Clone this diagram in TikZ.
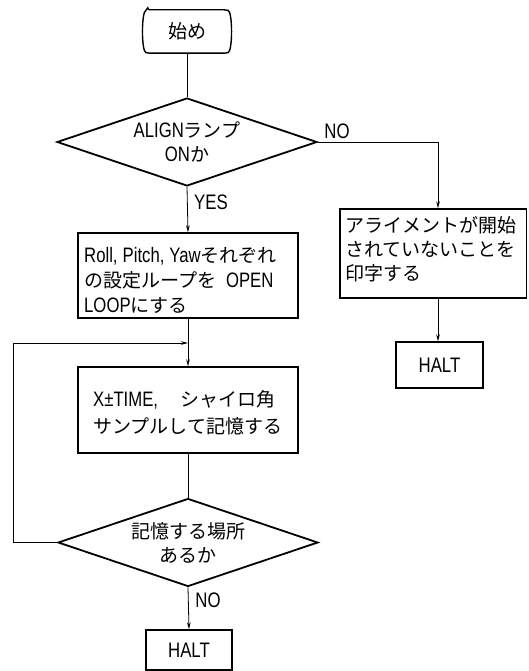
\documentclass[tikz,border=0pt]{standalone}
\usepackage{fontspec}
\setmainfont{Noto Sans CJK JP}
\newfontfamily\lat[FakeStretch=0.8,Scale=1.1]{Liberation Sans}
\newfontfamily\latl[FakeStretch=0.8]{Liberation Sans}
\usetikzlibrary{shapes.geometric,arrows.meta}
\begin{document}
\begin{tikzpicture}[x=1pt,y=-1pt,
  font=\fontsize{19}{24}\selectfont,
  box/.style={draw,line width=1.4pt,inner sep=0pt},
  dia/.style={draw,diamond,line width=1.8pt,aspect=2.95,minimum width=260pt,minimum height=88pt,inner sep=0pt,align=center},
  txt/.style={inner sep=0pt,align=left,anchor=west},
  conn/.style={line width=0.8pt},
  arr/.style={conn,-{Stealth[length=7pt,width=3.6pt]}},
  lbl/.style={font=\latl\fontsize{21}{24}\selectfont,inner sep=0pt}]
\useasboundingbox (0,0) rectangle (528,671);
% start terminal
\node[minimum width=88pt,minimum height=43pt,inner sep=0pt] (start) at (187,31.5) {始め};
\draw[line width=1.4pt,rounded corners=2pt] ([xshift=5pt]start.north west) -- ([xshift=-5pt]start.north east)
  .. controls ([xshift=1.5pt,yshift=-2pt]start.north east) and ([xshift=1.5pt,yshift=2pt]start.south east) .. ([xshift=-5pt]start.south east)
  -- ([xshift=5pt]start.south west)
  .. controls ([xshift=-1.5pt,yshift=2pt]start.south west) and ([xshift=-1.5pt,yshift=-2pt]start.north west) .. ([xshift=5pt]start.north west) -- cycle;
% decision 1
\node[dia] (d1) at (187,142) {{\lat ALIGN}ランプ\\{\lat ON}か};
% roll box
\node[box,minimum width=220pt,minimum height=85pt] (roll) at (188,275.5) {};
\node[txt,font=\fontsize{19}{25}\selectfont] (rolltxt) at (84,280) {{\lat Roll,\hspace{5pt}Pitch,\hspace{5pt}Yaw}それぞれ\\の設定ループを\hspace{10pt}{\lat OPEN}\\{\lat LOOP}にする};
% sample box
\node[box,minimum width=220pt,minimum height=86pt] (samp) at (188,410) {};
\node[txt,font=\fontsize{19}{27}\selectfont] (samptxt) at (93,412.5) {\makebox[87pt][l]{\lat X±TIME,}シャイロ角\\サンプルして記憶する};
% decision 2
\node[dia] (d2) at (188,542.5) {記憶する場所\\あるか};
% halt 1
\node[box,minimum width=86pt,minimum height=40pt,font=\latl\fontsize{21}{24}\selectfont] (halt1) at (189,650) {HALT};
% right box
\node[box,minimum width=186.5pt,minimum height=89pt] (rbox) at (433.25,253.5) {};
\node[txt] (rtxt) at (345,249) {アライメントが開始\\されていないことを\\印字する};
% halt 2
\node[box,minimum width=87pt,minimum height=46pt,font=\latl\fontsize{21}{24}\selectfont] (halt2) at (439.5,365) {HALT};
% labels
\node[lbl] (no1) at (337,131) {NO};
\node[lbl] (yes) at (211,202) {YES};
\node[lbl] (no2) at (208,600) {NO};
% connectors
\coordinate (j) at (188,343);
\coordinate (lp) at (13,542.5);
\draw[conn] (start.south) -- (d1.north);
\draw[arr] (d1.east) -| ([xshift=4.75pt]rbox.north);
\draw[arr] ([xshift=4.75pt]rbox.south) -- ([xshift=-1.5pt]halt2.north);
\draw[arr] (d1.south) -- (roll.north);
\draw[conn] (roll.south) -- (j);
\draw[arr] (j) -- (samp.north);
\draw[conn] (samp.south) -- (d2.north);
\draw[arr] (d2.west) -- (lp) |- (j);
\draw[arr] (d2.south) -- (halt1.north);
\end{tikzpicture}
\end{document}
